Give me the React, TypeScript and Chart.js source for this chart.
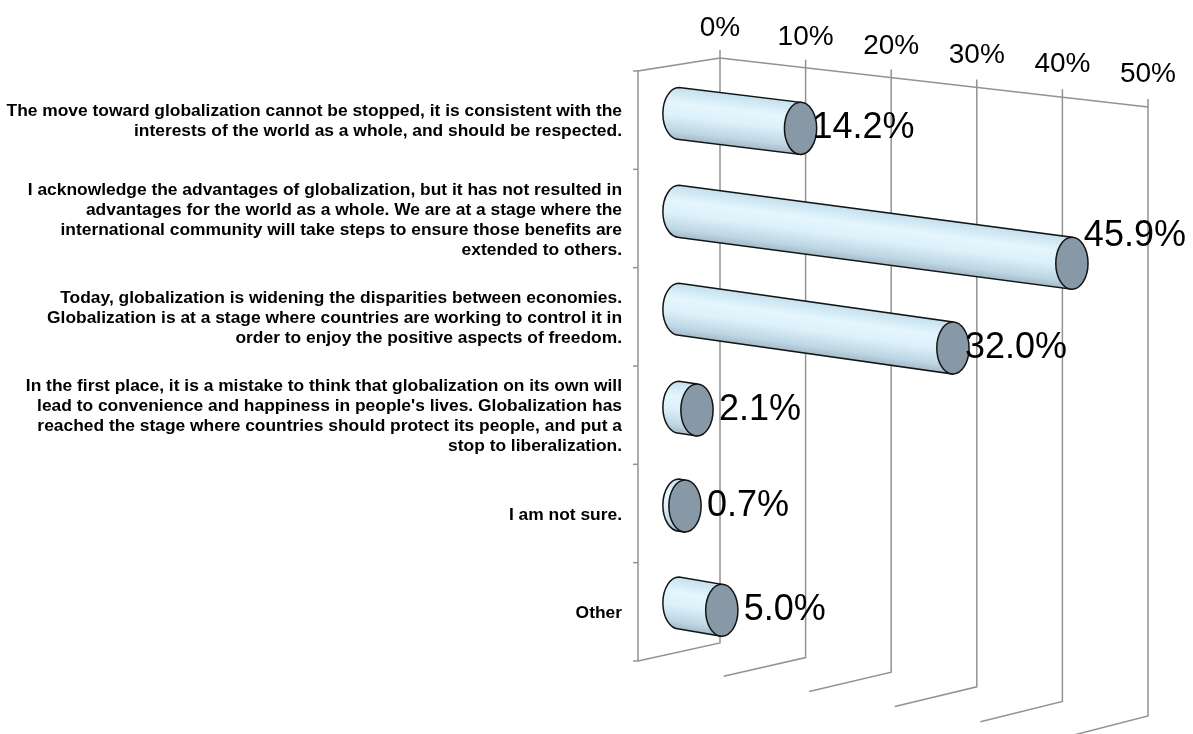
import React, { useEffect, useRef } from "react";
import { Chart, registerables } from "chart.js";

Chart.register(...registerables);

// ---------- data ----------
const categories: string[][] = [
  [
    "The move toward globalization cannot be stopped, it is consistent with the",
    "interests of the world as a whole, and should be respected.",
  ],
  [
    "I acknowledge the advantages of globalization, but it has not resulted in",
    "advantages for the world as a whole. We are at a stage where the",
    "international community will take steps to ensure those benefits are",
    "extended to others.",
  ],
  [
    "Today, globalization is widening the disparities between economies.",
    "Globalization is at a stage where countries are working to control it in",
    "order to enjoy the positive aspects of freedom.",
  ],
  [
    "In the first place, it is a mistake to think that globalization on its own will",
    "lead to convenience and happiness in people's lives. Globalization has",
    "reached the stage where countries should protect its people, and put a",
    "stop to liberalization.",
  ],
  ["I am not sure."],
  ["Other"],
];

const values: number[] = [14.2, 45.9, 32.0, 2.1, 0.7, 5.0];

const axisMin = 0;
const axisMax = 50;
const axisStep = 10;

// ---------- style / layout ----------
const CANVAS_W = 1193;
const CANVAS_H = 734;
const FONT = '"Liberation Sans", Arial, Helvetica, sans-serif';
const GRID_COLOR = "#939393";

// perspective parameters (pixels)
const persp = {
  topDrop: 49,
  bottomDrop: 73,
  depthX: 82,
  depthYTop: 13,
  depthYBottom: 18,
  depthYFar: 3,
};

function makeGeom(chart: any) {
  const ca = chart.chartArea;
  const w = ca.right - ca.left;
  const h = ca.bottom - ca.top;
  const pt = (xPix: number, yPix: number, d: number) => {
    const t = (xPix - ca.left) / w;
    const f = (yPix - ca.top) / h;
    const yb = yPix + t * (persp.topDrop + f * (persp.bottomDrop - persp.topDrop));
    const dx = -persp.depthX * d;
    const dy =
      d * (persp.depthYTop + f * (persp.depthYBottom - persp.depthYTop) + t * persp.depthYFar);
    return { x: xPix + dx, y: yb + dy, t };
  };
  return { ca, pt };
}

const cylinderPlugin = {
  id: "cylinder3d",
  beforeDatasetsDraw(chart: any) {
    const ctx = chart.ctx as CanvasRenderingContext2D;
    const xs = chart.scales.x;
    const { ca, pt } = makeGeom(chart);
    const ticks: number[] =
      xs.ticks && xs.ticks.length
        ? xs.ticks.map((t: any) => t.value)
        : Array.from({ length: (axisMax - axisMin) / axisStep + 1 }, (_, i) => axisMin + i * axisStep);

    ctx.save();
    ctx.strokeStyle = GRID_COLOR;
    ctx.lineWidth = 1.5;
    ctx.lineCap = "butt";

    ticks.forEach((v) => {
      const xp = xs.getPixelForValue(v);
      const top = pt(xp, ca.top, 0);
      const bot = pt(xp, ca.bottom, 0);
      const front = pt(xp, ca.bottom, 1);
      ctx.beginPath();
      ctx.moveTo(top.x, top.y - 8);
      ctx.lineTo(bot.x, bot.y);
      ctx.lineTo(front.x, front.y);
      ctx.stroke();
    });

    const x0 = xs.getPixelForValue(axisMin);
    const x1 = xs.getPixelForValue(axisMax);
    const a = pt(x0, ca.top, 0);
    const b = pt(x1, ca.top, 0);
    ctx.beginPath();
    ctx.moveTo(a.x, a.y);
    ctx.lineTo(b.x, b.y);
    ctx.stroke();

    const lt = pt(x0, ca.top, 1);
    const lb = pt(x0, ca.bottom, 1);
    ctx.beginPath();
    ctx.moveTo(a.x, a.y);
    ctx.lineTo(lt.x, lt.y);
    ctx.lineTo(lb.x, lb.y);
    ctx.stroke();

    const n = categories.length;
    for (let i = 0; i <= n; i++) {
      const yp = ca.top + (i * (ca.bottom - ca.top)) / n;
      const p = pt(x0, yp, 1);
      ctx.beginPath();
      ctx.moveTo(p.x - 5, p.y);
      ctx.lineTo(p.x, p.y);
      ctx.stroke();
    }

    // value axis labels
    ctx.fillStyle = "#000";
    const tfs = 28;
    ctx.font = `${tfs}px ${FONT}`;
    ctx.textAlign = "center";
    ctx.textBaseline = "alphabetic";
    ticks.forEach((v) => {
      const xp = xs.getPixelForValue(v);
      const top = pt(xp, ca.top, 0);
      ctx.fillText(`${v}%`, top.x, top.y - 32.5 - top.t * 3 + 0.358 * tfs);
    });

    // category labels
    const ys = chart.scales.y;
    const cfs = 17.4;
    ctx.font = `bold ${cfs}px ${FONT}`;
    ctx.textAlign = "right";
    const lh = 20;
    categories.forEach((lines, i) => {
      const yc = ys.getPixelForValue(i);
      const p = pt(x0, yc, 1);
      const startY = p.y - ((lines.length - 1) * lh) / 2;
      lines.forEach((ln, j) => {
        ctx.fillText(ln, p.x - 16, startY + j * lh + 0.358 * cfs);
      });
    });
    ctx.restore();
  },
  afterDatasetsDraw(chart: any) {
    const ctx = chart.ctx as CanvasRenderingContext2D;
    const meta = chart.getDatasetMeta(0);
    const { pt } = makeGeom(chart);
    ctx.save();
    meta.data.forEach((el: any, i: number) => {
      const props = el.getProps(["x", "y", "base", "height"], true);
      const RY = props.height / 2;
      const RX = RY * 0.62;
      const L = pt(props.base, props.y, 0.5);
      const R = pt(props.x, props.y, 0.5);

      let ux = R.x - L.x;
      let uy = R.y - L.y;
      const len = Math.hypot(ux, uy);
      if (len < 1e-3) {
        ux = 1;
        uy = 0;
      } else {
        ux /= len;
        uy /= len;
      }
      const nx = -uy;
      const ny = ux;
      const mx = (L.x + R.x) / 2;
      const my = (L.y + R.y) / 2;
      const g = ctx.createLinearGradient(mx - nx * RY, my - ny * RY, mx + nx * RY, my + ny * RY);
      g.addColorStop(0, "#c3e0ee");
      g.addColorStop(0.3, "#e4f6fd");
      g.addColorStop(0.55, "#dcf1fa");
      g.addColorStop(0.85, "#bdd6e3");
      g.addColorStop(1, "#a3bac7");

      ctx.beginPath();
      ctx.moveTo(L.x, L.y - RY);
      ctx.lineTo(R.x, R.y - RY);
      ctx.lineTo(R.x, R.y + RY);
      ctx.lineTo(L.x, L.y + RY);
      ctx.ellipse(L.x, L.y, RX, RY, 0, Math.PI / 2, (Math.PI * 3) / 2, false);
      ctx.closePath();
      ctx.fillStyle = g;
      ctx.fill();
      ctx.strokeStyle = "#141414";
      ctx.lineWidth = 1.5;
      ctx.stroke();

      ctx.beginPath();
      ctx.ellipse(R.x, R.y, RX, RY, 0, 0, Math.PI * 2);
      ctx.fillStyle = "#8798a6";
      ctx.fill();
      ctx.stroke();

      // value label
      const txt = `${values[i].toFixed(1)}%`;
      const vfs = 36;
      ctx.font = `${vfs}px ${FONT}`;
      ctx.textAlign = "left";
      ctx.textBaseline = "alphabetic";
      ctx.fillStyle = "#000";
      const w = ctx.measureText(txt).width;
      const back = pt(props.x, props.y, 0);
      const lx = back.x + 22 - w / 2;
      let ly = R.y - 3;
      if (lx + w > chart.width - 20) ly = R.y - 30;
      ctx.fillText(txt, lx, ly + 0.358 * vfs);
    });
    ctx.restore();
  },
};

export default function App() {
  const ref = useRef<HTMLCanvasElement | null>(null);
  useEffect(() => {
    if (!ref.current) return;
    const chart = new Chart(ref.current, {
      type: "bar",
      data: {
        labels: categories,
        datasets: [
          {
            data: values,
            backgroundColor: "rgba(0,0,0,0)",
            borderWidth: 0,
            barPercentage: 0.667,
            categoryPercentage: 0.8,
          },
        ],
      },
      options: {
        indexAxis: "y",
        responsive: false,
        animation: false,
        events: [],
        layout: { padding: { left: 720, right: 45, top: 58, bottom: 91 } },
        plugins: { legend: { display: false }, tooltip: { enabled: false } },
        scales: {
          x: { display: false, min: axisMin, max: axisMax, ticks: { stepSize: axisStep } },
          y: { display: false },
        },
      },
      plugins: [cylinderPlugin],
    } as any);
    return () => chart.destroy();
  }, []);
  return (
    <canvas
      ref={ref}
      width={CANVAS_W}
      height={CANVAS_H}
      style={{ position: "absolute", left: 0, top: 0, display: "block", background: "#fff" }}
    />
  );
}
